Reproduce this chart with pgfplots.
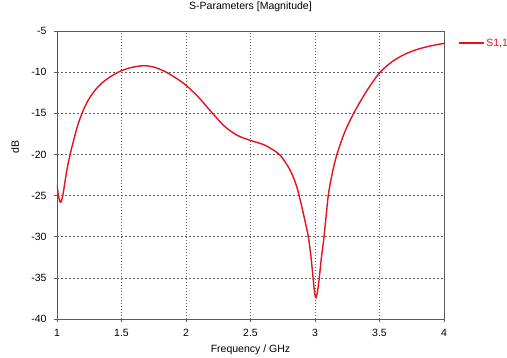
\documentclass[border=0pt]{standalone}
\usepackage{pgfplots}
\pgfplotsset{compat=1.18}
\usepackage{fontspec}
\setmainfont{Liberation Sans}
\definecolor{sred}{RGB}{232,16,28}
\definecolor{frame}{RGB}{90,90,90}
\definecolor{gridc}{RGB}{95,95,95}

\begin{document}
\begin{tikzpicture}[x=1pt,y=1pt]
\begin{axis}[
  at={(57pt,39pt)}, anchor=south west,
  scale only axis, width=387pt, height=288pt,
  xmin=1, xmax=4, ymin=-40, ymax=-5,
  xtick={1,1.5,...,4}, ytick={-40,-35,...,-5},
  font=\fontsize{10.5}{12}\selectfont,
  /pgf/number format/assume math mode=true,
  axis line style={frame, line width=0.8pt},
  tick pos=left, tick align=outside,
  major tick length=3pt,
  tick style={frame, line width=0.6pt},
  xmajorgrids, ymajorgrids,
  every axis x grid/.style={gridc, line width=0.7pt, dash pattern=on 1pt off 2pt},
  every axis y grid/.style={gridc, line width=0.7pt, dash pattern=on 2pt off 2pt},
  xticklabel style={anchor=center, yshift=-11pt},
  yticklabel style={anchor=east, xshift=-4pt},
  title={S-Parameters [Magnitude]},
  title style={anchor=center, at={(0.5,1)}, yshift=18pt},
  xlabel={Frequency / GHz},
  xlabel style={anchor=center, at={(0.5,0)}, yshift=-31pt},
  ylabel={dB},
  ylabel style={anchor=center, at={(axis description cs:-0.1085,0.597)}},
  legend style={at={(axis description cs:1.036,0.958)}, anchor=west,
    draw=none, fill=none, inner sep=0pt, text=sred,
    font=\fontsize{10.5}{12}\selectfont},
  legend image code/.code={\draw[sred, line width=1.2pt] (0pt,0pt) -- (25pt,0pt);},
]
\addplot[sred, line width=1.4pt, smooth] coordinates {
  (1.000,-23.7) (1.010,-24.9) (1.020,-25.6) (1.030,-25.8) (1.045,-25.0)
  (1.060,-23.5) (1.080,-21.6) (1.108,-19.6) (1.140,-17.6) (1.170,-16.0)
  (1.210,-14.4) (1.250,-13.2) (1.300,-12.1) (1.350,-11.3) (1.400,-10.7)
  (1.475,-10.0) (1.550,-9.55) (1.620,-9.30) (1.680,-9.22) (1.750,-9.38)
  (1.840,-9.95) (1.920,-10.7) (2.000,-11.6) (2.100,-13.1) (2.200,-14.9)
  (2.300,-16.6) (2.400,-17.7) (2.500,-18.3) (2.600,-18.8) (2.670,-19.4)
  (2.730,-20.1) (2.800,-21.7) (2.850,-23.5) (2.880,-25.2) (2.910,-27.2)
  (2.948,-30.0) (2.970,-32.6) (2.985,-35.0) (2.998,-36.9) (3.008,-37.4)
  (3.018,-36.8) (3.033,-35.0) (3.050,-32.5) (3.070,-30.0) (3.103,-25.0)
  (3.135,-22.2) (3.170,-20.0) (3.230,-17.3) (3.300,-15.0) (3.400,-12.3)
  (3.500,-10.1) (3.600,-8.7) (3.700,-7.8) (3.800,-7.2) (3.900,-6.8)
  (4.000,-6.5)
};
\addlegendentry{S1,1}
\end{axis}
\pgfresetboundingbox
\path (0pt,0pt) rectangle (507pt,358pt);
\end{tikzpicture}
\end{document}
